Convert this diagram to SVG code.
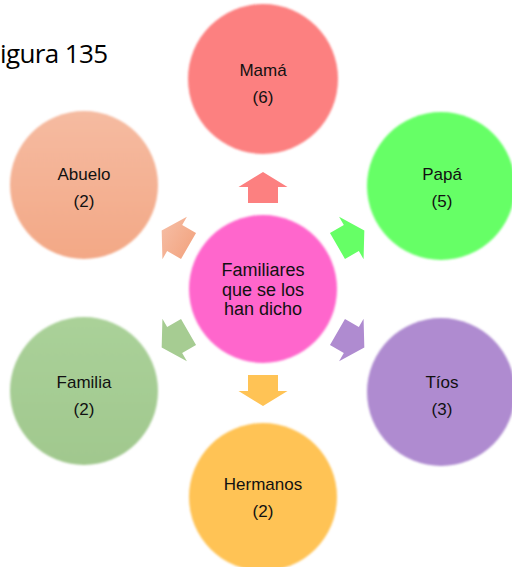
<svg xmlns="http://www.w3.org/2000/svg" width="512" height="567" viewBox="0 0 512 567">
<defs>
<filter id="soft" x="-10%" y="-10%" width="120%" height="120%"><feGaussianBlur stdDeviation="0.9"/></filter>
<linearGradient id="gAb" x1="0" y1="0" x2="0" y2="1"><stop offset="0" stop-color="#F5BBA1"/><stop offset="1" stop-color="#F3A886"/></linearGradient>
<linearGradient id="gFa" x1="0" y1="0" x2="0" y2="1"><stop offset="0" stop-color="#AAD199"/><stop offset="1" stop-color="#A1C88E"/></linearGradient>
<polygon id="arr" points="-15,-86 15,-86 15,-102 24.5,-102 0,-117 -24.5,-102 -15,-102"/>
</defs>
<style>
text{font-family:"Liberation Sans",Arial,sans-serif;font-size:17px;fill:#111;text-anchor:middle}
.c{filter:url(#soft)}
.ctr{font-size:18px}
.fig{font-family:"Open Sans","Noto Sans",sans-serif;font-size:26px;text-anchor:start;fill:#000}
</style>
<rect width="512" height="567" fill="#fff"/>
<text class="fig" x="0" y="63" textLength="108">igura 135</text>
<g id="connectors" transform="translate(263,289)">
<use href="#arr" fill="#FC8080"/>
<use href="#arr" fill="#66FF66" transform="rotate(60)"/>
<use href="#arr" fill="#AF8BD0" transform="rotate(120)"/>
<use href="#arr" fill="#FFC355" transform="rotate(180)"/>
<use href="#arr" fill="#A6CC92" transform="rotate(240)"/>
<use href="#arr" fill="url(#gAb)" transform="rotate(300)"/>
</g>
<g id="center"><circle class="c" cx="263" cy="289" r="74" fill="#FF66CC"/>
<text class="ctr" x="263" y="276">Familiares</text><text class="ctr" x="263" y="295.5">que se los</text><text class="ctr" x="263" y="315">han dicho</text></g>
<g id="mama"><circle class="c" cx="263" cy="79" r="75" fill="#FC8080"/><text x="263" y="76">Mamá</text><text x="263" y="103">(6)</text></g>
<g id="papa"><circle class="c" cx="441" cy="186" r="74" fill="#66FF66"/><text x="442" y="180">Papá</text><text x="442" y="207">(5)</text></g>
<g id="tios"><circle class="c" cx="441" cy="392" r="74" fill="#AF8BD0"/><text x="442" y="388">Tíos</text><text x="442" y="415">(3)</text></g>
<g id="hermanos"><circle class="c" cx="263" cy="497" r="74" fill="#FFC355"/><text x="263" y="490">Hermanos</text><text x="263" y="517">(2)</text></g>
<g id="familia"><circle class="c" cx="84" cy="391" r="74" fill="url(#gFa)"/><text x="84" y="388">Familia</text><text x="84" y="415">(2)</text></g>
<g id="abuelo"><circle class="c" cx="84" cy="185" r="74" fill="url(#gAb)"/><text x="84" y="180">Abuelo</text><text x="84" y="207">(2)</text></g>
</svg>
